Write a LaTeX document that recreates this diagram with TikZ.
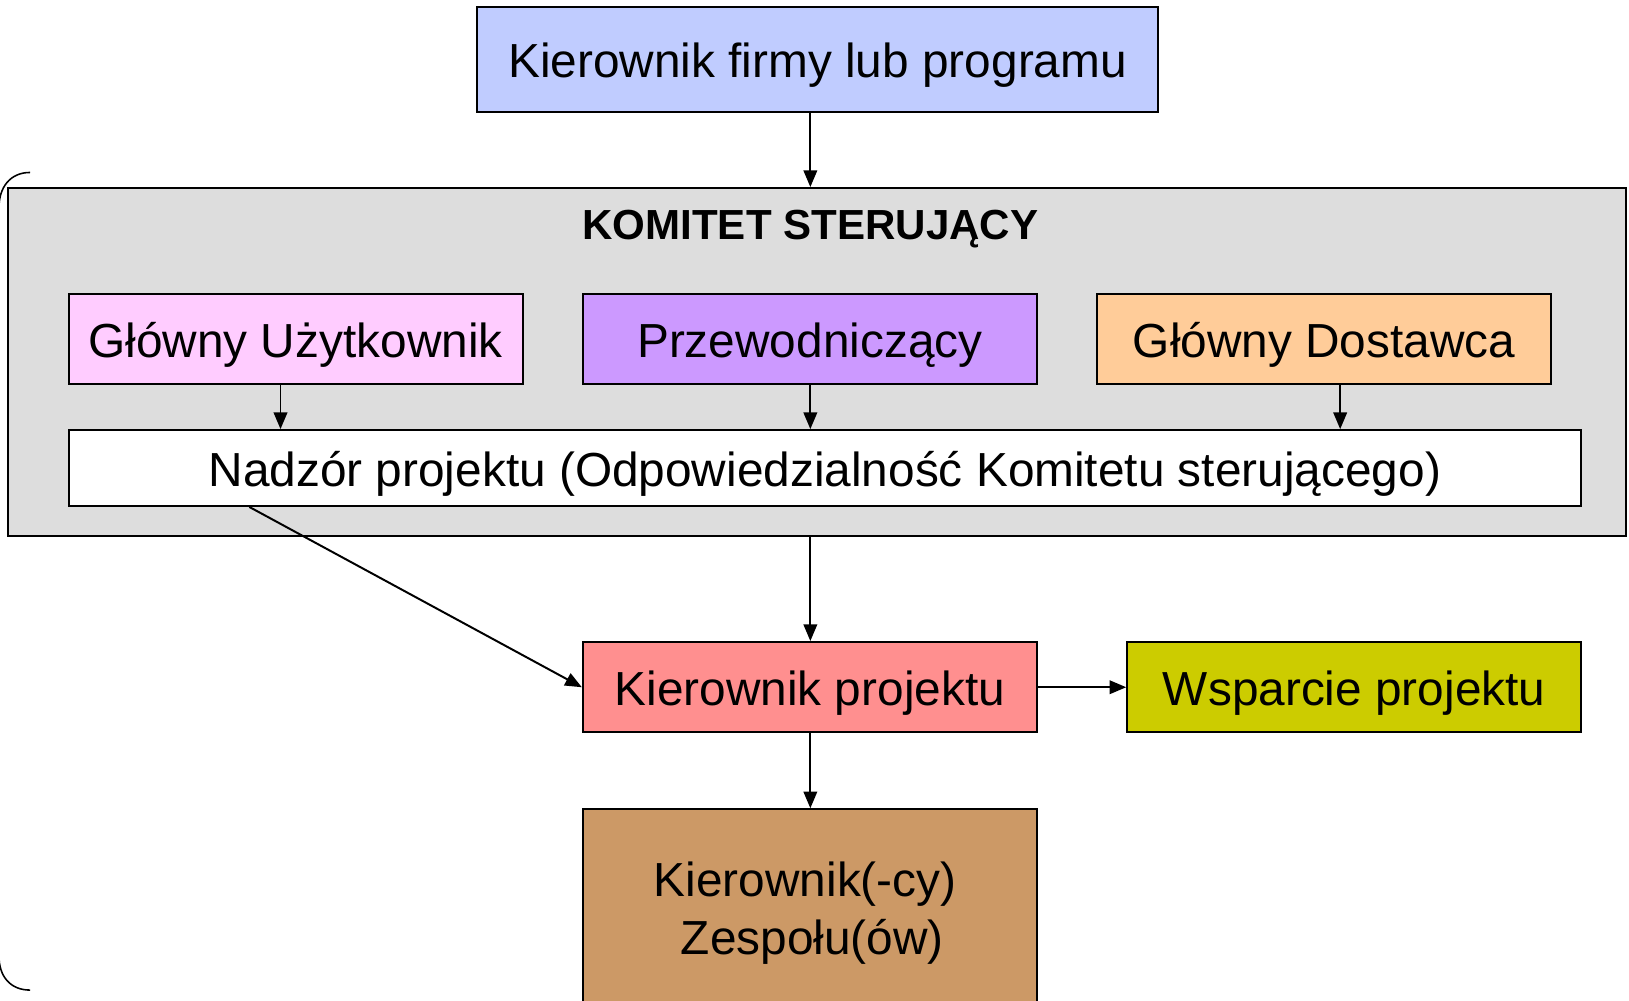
\documentclass[tikz,border=0pt]{standalone}
\usepackage{fontspec}
\setmainfont{Liberation Sans}
\usetikzlibrary{arrows.meta}
\definecolor{cTop}{RGB}{192,204,255}
\definecolor{cGray}{RGB}{221,221,221}
\definecolor{cPink}{RGB}{255,204,255}
\definecolor{cPurple}{RGB}{204,153,255}
\definecolor{cOrange}{RGB}{255,204,153}
\definecolor{cRed}{RGB}{255,143,143}
\definecolor{cOlive}{RGB}{204,204,0}
\definecolor{cBrown}{RGB}{204,153,102}
\tikzset{
  box/.style={draw=black, line width=1.9pt, rectangle, inner sep=0pt, align=center,
    font=\fontsize{46}{55}\selectfont, text height=39pt, text depth=4pt},
  conn/.style={line width=1.9pt, -{Triangle[length=16pt,width=13pt]}}
}
\begin{document}
\begin{tikzpicture}[x=1pt,y=-1pt]
\useasboundingbox (0,0) rectangle (1568,962.6);
% bracket
\draw[line width=1.5pt] (29,166) .. controls (10,166) and (-1,180) .. (-1,200) -- (-1,920) .. controls (-1,940) and (10,953) .. (29,953);
% top box
\node[box, fill=cTop, minimum width=656pt, minimum height=101pt] (top) at (787,57.5) {Kierownik firmy lub programu};
% steering committee
\node[draw=black, line width=1.9pt, fill=cGray, minimum width=1557pt, minimum height=335pt, inner sep=0pt] (kom) at (786.5,348.5) {};
\node[font=\fontsize{40.5}{48}\selectfont\bfseries, inner sep=0pt, anchor=base] (komt) at (780,231) {KOMITET STERUJĄCY};
\node[box, fill=cPink, minimum width=437pt, minimum height=87pt] (gu) at (284.5,326.5) {Główny Użytkownik};
\node[box, fill=cPurple, minimum width=437pt, minimum height=87pt] (prz) at (779.5,326.5) {Przewodniczący};
\node[box, fill=cOrange, minimum width=437pt, minimum height=87pt] (gd) at (1274.5,326.5) {Główny Dostawca};
\node[box, fill=white, minimum width=1456pt, minimum height=73pt] (nad) at (794,450.5) {Nadzór projektu (Odpowiedzialność Komitetu sterującego)};
% lower boxes
\node[box, fill=cRed, minimum width=437pt, minimum height=87pt] (kp) at (779.5,661.5) {Kierownik projektu};
\node[box, fill=cOlive, minimum width=437pt, minimum height=87pt] (wp) at (1303.5,661.5) {Wsparcie projektu};
\node[draw=black, line width=1.9pt, fill=cBrown, minimum width=437pt, minimum height=200pt, inner sep=0pt, anchor=north] (kz) at (779.5,778) {};
\node[font=\fontsize{46}{55}\selectfont, align=center, inner sep=0pt, anchor=center] (kzt) at (775,879) {Kierownik(-cy)\\\hspace*{0.3em}Zespołu(ów)};
% coordinates for arrow columns
\coordinate (c1) at (270,0);
\coordinate (c2) at (780,0);
\coordinate (c3) at (1290,0);
\coordinate (d1) at (240,0);
% connectors
\draw[conn] (top.south -| c2) -- (kom.north -| c2);
\draw[conn] (gu.south -| c1) -- (nad.north -| c1);
\draw[conn] (prz.south -| c2) -- (nad.north -| c2);
\draw[conn] (gd.south -| c3) -- (nad.north -| c3);
\draw[conn] (kom.south -| c2) -- (kp.north -| c2);
\draw[conn] (nad.south -| d1) -- (kp.west);
\draw[conn] (kp.east) -- (wp.west);
\draw[conn] (kp.south -| c2) -- (kz.north -| c2);
\end{tikzpicture}
\end{document}
